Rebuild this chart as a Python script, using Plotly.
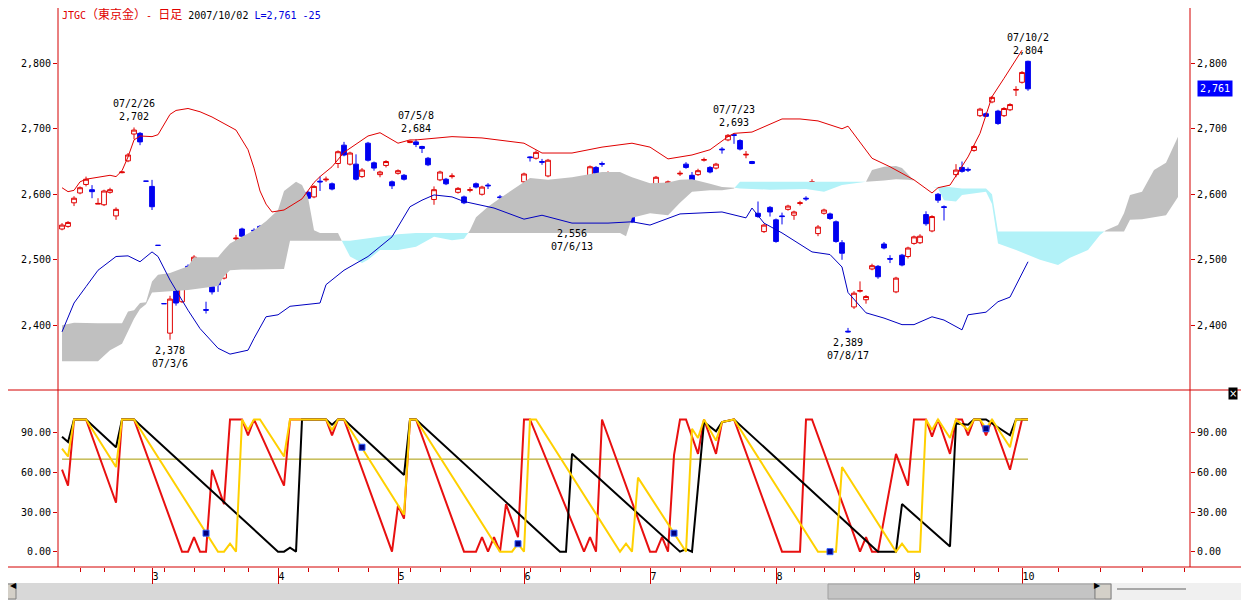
import pandas as pd
import plotly.graph_objects as go

# JTGC 東京金 日足, trading days 2007/02/07 - 2007/10/02
holidays = ['2007-02-12', '2007-03-21', '2007-04-30', '2007-05-03',
            '2007-05-04', '2007-07-16', '2007-09-17', '2007-09-24']
days = pd.bdate_range('2007-02-07', '2007-10-02')
days = days[~days.isin(pd.to_datetime(holidays))]
n = len(days)
idx = list(range(n))

opens = [2547, 2551, 2587, 2602, 2615, 2607, 2585, 2584, 2603, 2567,
         2633, 2651, 2692, 2693, 2620, 2612, 2522, 2433, 2388, 2465,
         2436, 2490, 2494, 2483, 2424, 2459, 2467, 2472, 2507, 2532,
         2547, 2523, 2545, 2551, 2526, 2539, 2543, 2535, 2558, 2596,
         2594, 2603, 2596, 2620, 2622, 2616, 2647, 2675, 2646, 2646,
         2627, 2678, 2648, 2630, 2644, 2619, 2632, 2629, 2679, 2680,
         2673, 2655, 2592, 2622, 2623, 2627, 2603, 2596, 2606, 2616,
         2600, 2614, 2580, 2596, 2594, 2596, 2586, 2619, 2657, 2655,
         2650, 2628, 2600, 2576, 2585, 2560, 2596, 2613, 2628, 2641,
         2647, 2630, 2618, 2622, 2617, 2571, 2582, 2596, 2608, 2611,
         2609, 2609, 2599, 2631, 2646, 2629, 2630, 2652, 2641, 2640,
         2669, 2683, 2691, 2682, 2660, 2650, 2571, 2543, 2580, 2561,
         2567, 2577, 2568, 2586, 2594, 2618, 2540, 2571, 2570, 2558,
         2526, 2391, 2428, 2452, 2439, 2486, 2490, 2524, 2502, 2451,
         2507, 2505, 2525, 2526, 2569, 2544, 2600, 2581, 2594, 2630,
         2641, 2638, 2667, 2720, 2723, 2741, 2727, 2720, 2729, 2759,
         2771, 2803]
highs = [2556, 2559, 2597, 2612, 2627, 2614, 2594, 2607, 2610, 2580,
         2635, 2663, 2702, 2695, 2620, 2622, 2522, 2433, 2445, 2468,
         2483, 2493, 2507, 2490, 2436, 2462, 2468, 2500, 2516, 2538,
         2549, 2530, 2548, 2553, 2536, 2545, 2549, 2553, 2569, 2599,
         2605, 2605, 2614, 2627, 2627, 2618, 2667, 2680, 2665, 2661,
         2640, 2680, 2650, 2636, 2652, 2621, 2638, 2631, 2682, 2684,
         2674, 2657, 2612, 2636, 2625, 2632, 2611, 2598, 2611, 2618,
         2613, 2617, 2582, 2599, 2596, 2601, 2601, 2633, 2658, 2667,
         2654, 2654, 2608, 2581, 2590, 2573, 2601, 2615, 2644, 2643,
         2650, 2635, 2628, 2630, 2618, 2576, 2586, 2601, 2612, 2628,
         2610, 2621, 2609, 2636, 2649, 2634, 2639, 2656, 2643, 2648,
         2672, 2692, 2693, 2684, 2666, 2651, 2589, 2555, 2582, 2563,
         2572, 2584, 2575, 2590, 2597, 2623, 2553, 2578, 2572, 2560,
         2530, 2396, 2452, 2467, 2446, 2494, 2492, 2527, 2507, 2474,
         2509, 2520, 2537, 2539, 2574, 2568, 2602, 2583, 2599, 2646,
         2650, 2641, 2675, 2732, 2725, 2750, 2729, 2733, 2739, 2765,
         2788, 2804]
lows = [2545, 2549, 2582, 2600, 2612, 2594, 2585, 2582, 2601, 2561,
        2632, 2649, 2684, 2675, 2620, 2576, 2522, 2433, 2378, 2430,
        2434, 2477, 2492, 2475, 2418, 2447, 2451, 2470, 2503, 2528,
        2534, 2521, 2537, 2519, 2521, 2533, 2530, 2532, 2555, 2585,
        2592, 2593, 2594, 2605, 2619, 2606, 2640, 2658, 2644, 2621,
        2625, 2650, 2636, 2626, 2641, 2608, 2630, 2621, 2678, 2672,
        2663, 2643, 2584, 2620, 2614, 2624, 2601, 2585, 2603, 2609,
        2598, 2608, 2568, 2590, 2582, 2593, 2584, 2617, 2650, 2653,
        2645, 2626, 2590, 2572, 2581, 2556, 2592, 2600, 2626, 2630,
        2642, 2628, 2616, 2620, 2600, 2556, 2575, 2590, 2594, 2609,
        2603, 2607, 2597, 2628, 2639, 2620, 2628, 2650, 2632, 2638,
        2662, 2681, 2677, 2667, 2655, 2646, 2564, 2541, 2566, 2526,
        2554, 2575, 2561, 2583, 2590, 2616, 2536, 2569, 2561, 2526,
        2500, 2389, 2425, 2450, 2433, 2484, 2471, 2516, 2495, 2449,
        2490, 2502, 2523, 2524, 2552, 2542, 2587, 2560, 2591, 2626,
        2633, 2634, 2665, 2718, 2718, 2739, 2706, 2718, 2727, 2750,
        2769, 2758]
closes = [2553, 2557, 2594, 2610, 2623, 2604, 2586, 2605, 2607, 2577,
          2634, 2660, 2698, 2680, 2620, 2581, 2522, 2433, 2440, 2434,
          2480, 2482, 2504, 2482, 2423, 2451, 2462, 2499, 2506, 2533,
          2536, 2528, 2544, 2535, 2533, 2538, 2533, 2551, 2566, 2589,
          2602, 2594, 2612, 2619, 2623, 2608, 2665, 2660, 2663, 2623,
          2637, 2652, 2640, 2634, 2650, 2613, 2636, 2623, 2681, 2676,
          2670, 2645, 2607, 2634, 2616, 2628, 2609, 2587, 2607, 2611,
          2611, 2613, 2581, 2595, 2584, 2597, 2599, 2631, 2656, 2664,
          2649, 2652, 2592, 2577, 2586, 2568, 2597, 2602, 2642, 2632,
          2646, 2631, 2624, 2628, 2602, 2558, 2581, 2597, 2596, 2626,
          2605, 2619, 2607, 2632, 2641, 2622, 2636, 2653, 2634, 2646,
          2668, 2690, 2690, 2669, 2661, 2647, 2566, 2553, 2573, 2528,
          2566, 2582, 2573, 2587, 2593, 2619, 2550, 2576, 2563, 2528,
          2510, 2390, 2449, 2453, 2444, 2491, 2474, 2518, 2501, 2472,
          2492, 2518, 2535, 2536, 2555, 2566, 2591, 2580, 2595, 2637,
          2635, 2637, 2673, 2730, 2719, 2748, 2708, 2731, 2737, 2760,
          2786, 2761]

# upper / lower band lines (day index, price)
band_up_x = [0, 1, 2, 3, 4, 8, 9, 10, 11, 12, 13, 15, 16, 17, 18, 19, 21, 23, 25, 27,
             29, 31, 32, 33, 34, 35, 37, 40, 42, 43, 45, 47, 48, 51, 53, 56, 58, 59, 65, 70,
             77, 80, 85, 90, 95, 98, 101, 105, 108, 111, 112, 115, 120, 123, 126, 130, 131, 135, 138, 142,
             145, 146, 148, 151, 153, 155, 157, 160]
band_up_y = [2610, 2604, 2606, 2619, 2623, 2629, 2627, 2636, 2657, 2683, 2689, 2688, 2691, 2706, 2722, 2728, 2731, 2726, 2718, 2708,
             2698, 2668, 2640, 2605, 2585, 2573, 2576, 2593, 2618, 2627, 2642, 2664, 2670, 2689, 2694, 2678, 2683, 2683, 2688, 2686,
             2678, 2663, 2663, 2672, 2678, 2672, 2654, 2660, 2668, 2688, 2693, 2695, 2715, 2715, 2712, 2700, 2704, 2655, 2642, 2622,
             2602, 2610, 2614, 2657, 2693, 2749, 2777, 2820]
band_dn_x = [0, 2, 4, 6, 9, 11, 13, 15, 16, 18, 21, 23, 26, 28, 31, 32, 34, 36, 38, 43,
             44, 47, 51, 55, 58, 60, 62, 65, 67, 72, 77, 80, 85, 91, 95, 98, 103, 110, 114, 115,
             117, 120, 125, 128, 130, 131, 134, 137, 140, 142, 145, 147, 150, 151, 154, 156, 158, 161]
band_dn_y = [2390, 2434, 2459, 2484, 2505, 2506, 2497, 2512, 2505, 2469, 2423, 2395, 2365, 2356, 2362, 2380, 2413, 2416, 2429, 2434,
             2462, 2484, 2505, 2535, 2581, 2591, 2599, 2596, 2589, 2579, 2562, 2568, 2556, 2556, 2558, 2553, 2570, 2573, 2564, 2579,
             2556, 2541, 2512, 2508, 2489, 2450, 2419, 2411, 2401, 2401, 2413, 2408, 2393, 2416, 2420, 2436, 2443, 2497]

# ichimoku cloud, projected 26 days ahead
cloud_x = [0, 2, 6, 8, 10, 11, 12, 13, 14, 15, 16, 18, 21, 22, 26, 27, 28, 30, 32, 34,
           36, 37, 38, 39, 40, 41, 42, 43, 46, 47, 48, 50, 51, 53, 56, 59, 62, 65, 67, 68,
           69, 71, 73, 78, 81, 85, 90, 93, 94, 95, 98, 101, 103, 105, 108, 110, 112, 113, 118, 124,
           127, 130, 134, 135, 137, 139, 140, 141, 142, 145, 146, 147, 149, 150, 154, 155, 156, 159, 163, 166,
           168, 171, 173, 174, 176, 177, 178, 180, 182, 184, 186]
span_a = [2400, 2404, 2403, 2403, 2403, 2421, 2423, 2434, 2435, 2467, 2477, 2480, 2490, 2504, 2504, 2515, 2525, 2535, 2545, 2559,
          2576, 2605, 2612, 2619, 2614, 2595, 2545, 2541, 2541, 2522, 2505, 2495, 2500, 2515, 2515, 2520, 2535, 2530, 2532, 2545,
          2565, 2581, 2594, 2625, 2622, 2626, 2634, 2634, 2630, 2626, 2617, 2618, 2622, 2623, 2616, 2611, 2610, 2609, 2607, 2608,
          2604, 2614, 2619, 2637, 2642, 2643, 2640, 2630, 2621, 2612, 2609, 2591, 2589, 2599, 2604, 2585, 2525, 2515, 2500, 2492,
          2503, 2515, 2538, 2545, 2553, 2571, 2599, 2604, 2637, 2648, 2688]
span_b = [2345, 2345, 2345, 2362, 2372, 2390, 2410, 2425, 2432, 2450, 2451, 2452, 2454, 2455, 2460, 2475, 2484, 2485, 2485, 2486,
          2486, 2486, 2529, 2529, 2529, 2529, 2529, 2529, 2529, 2529, 2529, 2532, 2533, 2535, 2539, 2541, 2541, 2541, 2541, 2541,
          2541, 2541, 2541, 2541, 2541, 2541, 2541, 2541, 2536, 2564, 2571, 2568, 2587, 2604, 2606, 2606, 2609, 2619, 2619, 2619,
          2619, 2619, 2619, 2619, 2621, 2623, 2622, 2622, 2621, 2612, 2610, 2612, 2610, 2609, 2609, 2600, 2543, 2543, 2543, 2543,
          2543, 2543, 2543, 2543, 2543, 2543, 2561, 2562, 2565, 2568, 2596]

# oscillator panel (day index, value)
osc_red_x = [0, 1, 2, 4, 9, 10, 12, 20, 21, 22, 23, 24, 25, 27, 28, 30, 31, 32, 37, 38,
             44, 45, 46, 47, 55, 56, 57, 58, 59, 67, 69, 70, 71, 72, 73, 74, 76, 77, 78, 87,
             88, 89, 90, 98, 99, 100, 101, 102, 103, 104, 106, 107, 109, 110, 112, 120, 123, 124, 125, 133,
             134, 135, 136, 139, 141, 142, 144, 145, 146, 148, 149, 150, 151, 152, 153, 154, 155, 158, 160, 161]
osc_red_y = [62, 50, 100, 100, 37, 100, 100, 0, 0, 11, 0, 0, 62, 36, 100, 100, 88, 100, 50, 100,
             100, 88, 100, 100, 0, 35, 25, 100, 100, 0, 0, 11, 0, 11, 0, 36, 11, 100, 100, 0,
             11, 0, 100, 0, 0, 11, 0, 73, 100, 100, 74, 100, 74, 98, 100, 0, 0, 100, 100, 0,
             11, 0, 0, 74, 50, 100, 100, 87, 100, 74, 100, 100, 88, 100, 100, 88, 100, 62, 100, 100]
osc_yel_x = [0, 1, 2, 4, 9, 10, 12, 26, 27, 28, 29, 30, 31, 32, 33, 37, 38, 44, 45, 46,
             47, 57, 58, 59, 73, 75, 76, 77, 78, 79, 93, 94, 95, 96, 104, 105, 106, 107, 109, 110,
             112, 126, 129, 130, 139, 140, 141, 143, 144, 145, 146, 148, 149, 151, 152, 153, 154, 155, 158, 159,
             161]
osc_yel_y = [78, 72, 100, 100, 64, 100, 100, 0, 0, 6, 0, 100, 92, 100, 100, 72, 100, 100, 92, 100,
             100, 28, 100, 100, 0, 0, 6, 0, 100, 100, 0, 6, 0, 56, 0, 93, 86, 100, 84, 98,
             100, 0, 0, 64, 0, 6, 0, 0, 100, 92, 100, 86, 100, 92, 100, 100, 93, 100, 79, 100,
             100]
osc_blk_x = [0, 1, 2, 4, 9, 10, 12, 36, 37, 38, 39, 40, 44, 45, 46, 47, 57, 58, 59, 83,
             84, 85, 103, 104, 105, 107, 109, 110, 112, 136, 139, 140, 148, 149, 151, 152, 154, 158, 159, 161]
osc_blk_y = [87, 83, 100, 100, 79, 100, 100, 0, 0, 3, 0, 100, 100, 96, 100, 100, 58, 100, 100, 0,
             0, 74, 0, 2, 0, 98, 91, 98, 100, 0, 0, 36, 4, 97, 96, 100, 100, 88, 100, 100]
osc_mark_x = [24, 50, 76, 102, 128, 154]
osc_mark_y = [14, 79, 6, 14, 0, 93]
osc_level = 70

# high / low call-outs
peak_idx = [12, 59, 112, 161]
trough_idx = [18, 85, 131]
future_week_ticks = [166, 173, 180, 187]

RED = '#e00000'
BLUE = '#0000f0'
FRAME = '#d40000'
GRAY = '#c0c0c0'
CYAN = '#b2f2f8'
MONO = 'DejaVu Sans Mono, Noto Sans CJK JP'

# the page body keeps its default 8px margin, so the figure starts at (8, 8)
# of the window; px/py turn window pixels into paper coordinates
W, H = 1241, 592
L, R, T, B = 50, 59, 0, 33
PLOT_W, PLOT_H = W - L - R, H - T - B


def px(p):
    return (p - 8 - L) / PLOT_W


def py(p):
    return (H - B - (p - 8)) / PLOT_H


SPLIT = py(390)
TOP_RANGE = [2301.2, 2884.4]
OSC_RANGE = [-11.6, 122.3]


def cloud_pieces(xs, a, b):
    pieces = []
    cx, ca, cb = [xs[0]], [a[0]], [b[0]]
    up = a[0] >= b[0]
    for k in range(1, len(xs)):
        now = a[k] >= b[k]
        if now != up:
            d0, d1 = a[k - 1] - b[k - 1], a[k] - b[k]
            t = d0 / (d0 - d1)
            xc = xs[k - 1] + t * (xs[k] - xs[k - 1])
            yc = a[k - 1] + t * (a[k] - a[k - 1])
            cx.append(xc); ca.append(yc); cb.append(yc)
            pieces.append((up, cx, ca, cb))
            cx, ca, cb = [xc], [yc], [yc]
            up = now
        cx.append(xs[k]); ca.append(a[k]); cb.append(b[k])
    pieces.append((up, cx, ca, cb))
    return pieces


fig = go.Figure()

for up, cx, ca, cb in cloud_pieces(cloud_x, span_a, span_b):
    fig.add_trace(go.Scatter(x=cx + cx[::-1], y=ca + cb[::-1], fill='toself',
                             fillcolor=GRAY if up else CYAN, mode='lines',
                             line=dict(width=0), hoverinfo='skip'))

fig.add_trace(go.Scatter(x=band_up_x, y=band_up_y, mode='lines',
                         line=dict(color=RED, width=1)))
fig.add_trace(go.Scatter(x=band_dn_x, y=band_dn_y, mode='lines',
                         line=dict(color='#0000c0', width=1)))

fig.add_trace(go.Candlestick(
    x=idx, open=opens, high=highs, low=lows, close=closes,
    increasing=dict(line=dict(color=RED, width=1), fillcolor='white'),
    decreasing=dict(line=dict(color=BLUE, width=1), fillcolor=BLUE),
    whiskerwidth=0))

# --- oscillator panel ---
fig.add_trace(go.Scatter(x=[idx[0], idx[-1]], y=[osc_level, osc_level], yaxis='y2',
                         mode='lines', line=dict(color='#a89a00', width=1)))
fig.add_trace(go.Scatter(x=osc_red_x, y=osc_red_y, yaxis='y2', mode='lines',
                         line=dict(color='#e81010', width=2)))
fig.add_trace(go.Scatter(x=osc_blk_x, y=osc_blk_y, yaxis='y2', mode='lines',
                         line=dict(color='black', width=2)))
fig.add_trace(go.Scatter(x=osc_yel_x, y=osc_yel_y, yaxis='y2', mode='lines',
                         line=dict(color='#ffd000', width=2)))
fig.add_trace(go.Scatter(x=osc_mark_x, y=osc_mark_y, yaxis='y2', mode='markers',
                         marker=dict(symbol='square', size=6, color='#000080',
                                     line=dict(color='#3060ff', width=1))))

# placeholders so the right-hand axes get drawn
fig.add_trace(go.Scatter(x=[0], y=[2500], yaxis='y3', mode='markers',
                         marker=dict(opacity=0), hoverinfo='skip'))
fig.add_trace(go.Scatter(x=[0], y=[50], yaxis='y4', mode='markers',
                         marker=dict(opacity=0), hoverinfo='skip'))


def dstr(d):
    return f"{d:%y}/{d.month}/{d.day}"


notes = []
for k in peak_idx:
    notes.append(dict(x=k, y=highs[k], xref='x', yref='y', yanchor='bottom', yshift=3,
                      text=f"{dstr(days[k])}<br>{highs[k]:,}", showarrow=False))
for k in trough_idx:
    notes.append(dict(x=k, y=lows[k], xref='x', yref='y', yanchor='top', yshift=-3,
                      text=f"{lows[k]:,}<br>{dstr(days[k])}", showarrow=False))

last, prev = closes[-1], closes[-2]
cjk = 'font-size:12px'
notes.append(dict(
    x=px(60), y=py(15), xref='paper', yref='paper', xanchor='left', yanchor='middle',
    showarrow=False, font=dict(size=10),
    text=(f"<span style='color:{RED}'>JTGC</span>"
          f"<span style='color:{RED};{cjk}'>（東京金）</span>"
          f"<span style='color:{RED}'>- </span>"
          f"<span style='color:{RED};{cjk}'>日足</span> "
          f"{days[-1]:%Y/%m/%d} "
          f"<span style='color:#0000e0'>L={last:,} {last - prev:d}</span>")))
notes.append(dict(x=px(1197), y=last, xref='paper', yref='y', xanchor='left', showarrow=False,
                  text=f"{last:,}", bgcolor='#0000ff', font=dict(color='white', size=10),
                  borderpad=2))
notes.append(dict(x=px(1238), y=py(400), xref='paper', yref='paper', showarrow=False,
                  text='×', bgcolor='black', font=dict(color='white', size=10, family='DejaVu Sans'),
                  borderpad=0))
notes.append(dict(x=px(8), y=py(591.5), xref='paper', yref='paper', showarrow=False,
                  text='◀', font=dict(size=8, family='DejaVu Sans')))
notes.append(dict(x=px(1103), y=py(591.5), xref='paper', yref='paper', showarrow=False,
                  text='▶', font=dict(size=8, family='DejaVu Sans')))

full_l, full_r = px(0), px(1249)
shapes = [
    dict(type='line', xref='paper', yref='paper', x0=full_l, x1=full_r, y0=SPLIT, y1=SPLIT,
         line=dict(color=FRAME, width=1)),
    dict(type='line', xref='paper', yref='paper', x0=full_l, x1=full_r, y0=0, y1=0,
         line=dict(color=FRAME, width=1)),
    dict(type='line', xref='paper', yref='paper', x0=0, x1=0, y0=0, y1=py(0),
         line=dict(color=FRAME, width=1)),
    dict(type='line', xref='paper', yref='paper', x0=1, x1=1, y0=0, y1=py(0),
         line=dict(color=FRAME, width=1)),
    # scroll bar
    dict(type='rect', xref='paper', yref='paper', x0=full_l, x1=full_r, y0=py(600), y1=py(583),
         fillcolor='#d8d8d8', line=dict(width=0), layer='below'),
    dict(type='rect', xref='paper', yref='paper', x0=px(1), x1=px(16), y0=py(599), y1=py(584),
         fillcolor='#d4d0c8', line=dict(color='#808080', width=1)),
    dict(type='rect', xref='paper', yref='paper', x0=px(828), x1=px(1095), y0=py(599), y1=py(584),
         fillcolor='#c4c4c4', line=dict(color='#a0a0a0', width=1)),
    dict(type='rect', xref='paper', yref='paper', x0=px(1095), x1=px(1111), y0=py(599), y1=py(584),
         fillcolor='#d4d0c8', line=dict(color='#808080', width=1)),
    dict(type='rect', xref='paper', yref='paper', x0=px(1112), x1=full_r, y0=py(600), y1=py(583),
         fillcolor='#f0f0f0', line=dict(width=0)),
    dict(type='line', xref='paper', yref='paper', x0=px(1117), x1=px(1186), y0=py(589), y1=py(589),
         line=dict(color='#606060', width=1)),
]

month_ticks = [k for k in range(1, n) if days[k].month != days[k - 1].month]
month_text = [str(days[k].month) for k in month_ticks]
week_ticks = [k for k in range(1, n)
              if days[k].isocalendar().week != days[k - 1].isocalendar().week] + future_week_ticks

axis_font = dict(family=MONO, size=10, color='black')
y_common = dict(showgrid=False, zeroline=False, showline=False, ticks='outside', ticklen=4,
                tickcolor=FRAME, tickfont=axis_font, fixedrange=True)

fig.update_layout(
    width=W, height=H,
    margin=dict(l=L, r=R, t=T, b=B),
    paper_bgcolor='white', plot_bgcolor='white',
    showlegend=False, hovermode=False,
    boxgap=0.1, boxgroupgap=0.12,
    font=dict(family=MONO, size=10, color='black'),
    xaxis=dict(range=[-0.67, 188], anchor='y2', showgrid=False, zeroline=False, showline=False,
               tickmode='array', tickvals=month_ticks, ticktext=month_text,
               ticks='outside', ticklen=16, tickcolor=FRAME, tickfont=axis_font,
               ticklabelposition='outside right', ticklabelstandoff=0,
               minor=dict(tickmode='array', tickvals=week_ticks, ticks='outside',
                          ticklen=4, tickcolor=FRAME),
               rangeslider=dict(visible=False), fixedrange=True),
    yaxis=dict(domain=[SPLIT, 1], range=TOP_RANGE, anchor='x',
               tickvals=[2400, 2500, 2600, 2700, 2800], tickformat=',', **y_common),
    yaxis2=dict(domain=[0, SPLIT], range=OSC_RANGE, anchor='x',
                tickvals=[0, 30, 60, 90], tickformat='.2f', **y_common),
    yaxis3=dict(overlaying='y', side='right', anchor='x', range=TOP_RANGE,
                tickvals=[2400, 2500, 2600, 2700, 2800], tickformat=',', **y_common),
    yaxis4=dict(overlaying='y2', side='right', anchor='x', range=OSC_RANGE,
                tickvals=[0, 30, 60, 90], tickformat='.2f', **y_common),
    annotations=notes,
    shapes=shapes,
)

fig.write_html("out.html")
